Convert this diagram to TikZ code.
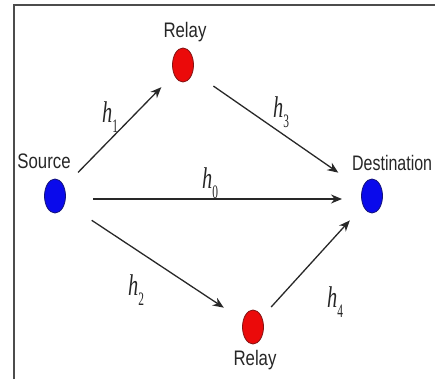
\documentclass[tikz,border=0pt]{standalone}
\usepackage{fontspec}
\setmainfont{Liberation Sans}
\newfontfamily\hfont{Liberation Serif}
\usetikzlibrary{arrows.meta,shapes.geometric}
\definecolor{nodeblue}{RGB}{10,10,235}
\definecolor{nodered}{RGB}{235,10,10}
\definecolor{edgeblue}{RGB}{20,20,120}
\definecolor{edgered}{RGB}{130,20,20}
\definecolor{linegray}{RGB}{40,40,40}
\newcommand{\lblx}[1]{\scalebox{0.8}[1]{\fontsize{21}{21}\selectfont #1}}
\newcommand{\lbln}[1]{\scalebox{0.76}[1]{\fontsize{21}{21}\selectfont #1}}
\newcommand{\hlab}[1]{\scalebox{0.68}[1]{\fontsize{30}{30}\selectfont\hfont\itshape h}\raisebox{-10pt}{\scalebox{0.6}[1]{\fontsize{19}{19}\selectfont\hfont #1}}}
\begin{document}
\begin{tikzpicture}[x=1pt,y=-1pt,
  bluedot/.style={ellipse, minimum width=21pt, minimum height=34pt, inner sep=0pt, fill=nodeblue, draw=edgeblue, line width=0.8pt},
  reddot/.style={ellipse, minimum width=21pt, minimum height=34pt, inner sep=0pt, fill=nodered, draw=edgered, line width=0.8pt},
  txt/.style={anchor=base, inner sep=0pt, text=black!85},
  hl/.style={anchor=base west, inner sep=0pt, text=black!85},
  link/.style={draw=linegray, line width=1.3pt, -{Stealth[length=11pt,width=9pt]}},
  frame/.style={draw=black!70, line width=1.5pt}
]
\useasboundingbox (0,0) rectangle (435,379);
\begin{scope}
\clip (0,0) rectangle (435,379);
% frame (left and top edges)
\coordinate (fbl) at (14,379);
\coordinate (ftl) at (14,5);
\coordinate (ftr) at (435,5);
\draw[frame] (fbl) -- (ftl) -- (ftr);

% dots
\node[bluedot] (src) at (55,196) {};
\node[reddot] (r1) at (183,65) {};
\node[bluedot] (dst) at (372,196) {};
\node[reddot] (r2) at (253,327) {};

% labels
\node[txt] (lsrc) at (44,168) {\lblx{Source}};
\node[txt] (lr1) at (185,38) {\lblx{Relay}};
\node[txt, anchor=base west] (ldst) at (352,170) {\lbln{Destination}};
\node[txt] (lr2) at (255,365) {\lblx{Relay}};

% links
\draw[link, shorten <=33pt, shorten >=31pt] (src.center) -- (r1.center);
\draw[link, shorten <=37pt, shorten >=41pt] (r1.center) -- (dst.center);
\draw[link, shorten <=38pt, shorten >=30pt] ([yshift=-3pt]src.center) -- ([yshift=-3pt]dst.center);
\draw[link, shorten <=44pt, shorten >=35pt] (src.center) -- (r2.center);
\draw[link, shorten <=27pt, shorten >=33pt] (r2.center) -- (dst.center);

% channel labels
\node[hl] (h1) at (102,123) {\hlab{1}};
\node[hl] (h3) at (273,118) {\hlab{3}};
\node[hl] (h0) at (202,188) {\hlab{0}};
\node[hl] (h2) at (128,295) {\hlab{2}};
\node[hl] (h4) at (327,307) {\hlab{4}};
\end{scope}
\end{tikzpicture}
\end{document}
